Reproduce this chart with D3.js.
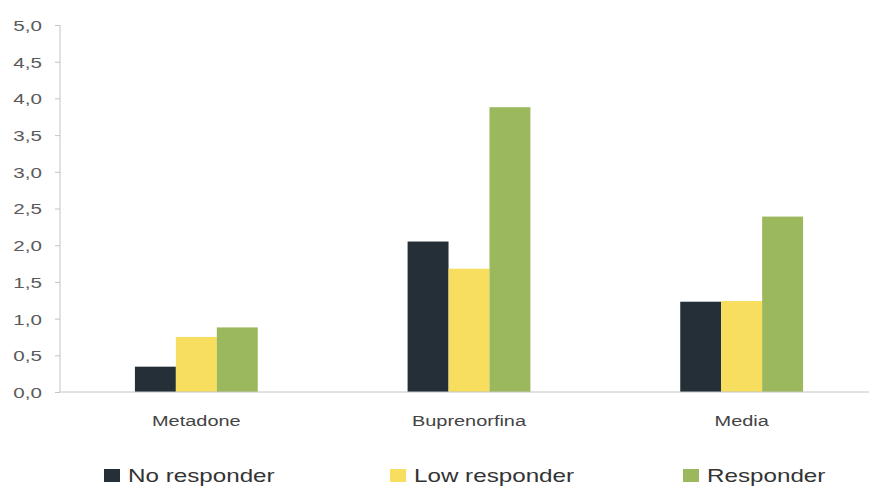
<!DOCTYPE html>
<html>
<head>
<meta charset="utf-8">
<script src="https://cdn.jsdelivr.net/npm/d3@7"></script>
<style>
  html, body { margin: 0; padding: 0; background: #ffffff; }
  svg { display: block; font-family: "Liberation Sans", Arial, sans-serif; }
</style>
</head>
<body>
<svg id="chart" width="869" height="486"></svg>
<script>
const categories = ["Metadone", "Buprenorfina", "Media"];
const seriesNames = ["No responder", "Low responder", "Responder"];
const noResponder = [0.345, 2.05, 1.23];
const lowResponder = [0.75, 1.68, 1.24];
const responder = [0.88, 3.88, 2.39];
const yTicks = [0, 0.5, 1, 1.5, 2, 2.5, 3, 3.5, 4, 4.5, 5];
const colors = ["#252f38", "#f8de5e", "#9cb85d"];

const seriesValues = [noResponder, lowResponder, responder];
const data = categories.map((c, i) => ({
  category: c,
  values: seriesNames.map((s, j) => ({ series: s, value: seriesValues[j][i] }))
}));

const svg = d3.select("#chart");
const SX = 1.33; // horizontal stretch of the original typography

const y = d3.scaleLinear().domain([0, 5]).range([392, 25]);
const x0 = d3.scaleBand().domain(categories).range([60, 878]).paddingInner(0).paddingOuter(0);
const x1 = d3.scaleBand().domain(seriesNames).range([0, x0.bandwidth()]).paddingInner(0).paddingOuter(1.83);
const color = d3.scaleOrdinal().domain(seriesNames).range(colors);

// Bars
const groups = svg.append("g").selectAll("g").data(data).join("g")
  .attr("transform", d => `translate(${x0(d.category)},0)`);
groups.selectAll("rect").data(d => d.values).join("rect")
  .attr("x", d => x1(d.series))
  .attr("width", x1.bandwidth())
  .attr("y", d => y(d.value))
  .attr("height", d => y(0) - y(d.value))
  .attr("fill", d => color(d.series));

// Y axis
const yAxis = d3.axisLeft(y).tickValues(yTicks).tickSize(5).tickFormat(() => "");
const yg = svg.append("g").attr("transform", "translate(60,0)").call(yAxis);
yg.select(".domain").attr("stroke", "#c4c4c4").attr("d", `M0,${y(5)}V${y(0)}`);
yg.selectAll(".tick line").attr("stroke", "#c4c4c4");
yg.selectAll(".tick").append("text")
  .attr("fill", "#5a5a5a")
  .attr("font-size", 15.5)
  .attr("text-anchor", "end")
  .attr("dy", "0.35em")
  .attr("transform", `translate(-18,0) scale(${SX},1)`)
  .text(d => d3.format(".1f")(d).replace(".", ","));

// X axis baseline
svg.append("line")
  .attr("x1", 60).attr("x2", 869)
  .attr("y1", y(0)).attr("y2", y(0))
  .attr("stroke", "#c4c4c4");

// Category labels
svg.append("g").selectAll("text").data(categories).join("text")
  .attr("transform", d => `translate(${x0(d) + x0.bandwidth() / 2},426) scale(${SX},1)`)
  .attr("text-anchor", "middle")
  .attr("font-size", 15)
  .attr("fill", "#444")
  .text(d => d);

// Legend
const legendX = [104, 390, 683];
const lg = svg.append("g").selectAll("g").data(seriesNames).join("g")
  .attr("transform", (d, i) => `translate(${legendX[i]},0)`);
lg.append("rect")
  .attr("x", 0).attr("y", 469).attr("width", 16).attr("height", 13)
  .attr("fill", d => color(d));
lg.append("text")
  .attr("transform", `translate(24,482) scale(${SX},1)`)
  .attr("font-size", 18.2)
  .attr("fill", "#333")
  .text(d => d);
</script>
</body>
</html>
